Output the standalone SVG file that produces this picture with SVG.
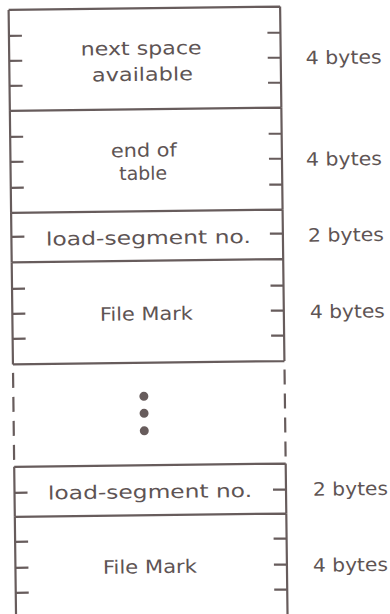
<svg xmlns="http://www.w3.org/2000/svg" width="390" height="614" viewBox="0 0 390 614">
<style>
 .ln{stroke:#675c5c;stroke-width:2.2;fill:none}
 .dash{stroke:#675c5c;stroke-width:2.2;fill:none;stroke-dasharray:15 9}
 .dot{fill:#675c5c}
 text{font-family:"DejaVu Sans","Liberation Sans",sans-serif;font-size:18.5px;fill:#5e5454}
</style>
<rect width="390" height="614" fill="#ffffff"/>
<g transform="rotate(-0.7)">
 <g id="next-space">
  <path class="ln" d="M8.5 10H280M8.5 10V111M280 10V111M8.5 36h13M8.5 61h13M8.5 86h13M280 36h-13M280 61h-13M280 86h-13"/>
  <text x="80" y="56.5" textLength="121" lengthAdjust="spacingAndGlyphs">next space</text>
  <text x="91" y="82.5" textLength="101" lengthAdjust="spacingAndGlyphs">available</text>
  <text x="305" y="68" textLength="76" lengthAdjust="spacingAndGlyphs">4 bytes</text>
 </g>
 <g id="end-of-table">
  <path class="ln" d="M8.5 111H280M8.5 111V213M280 111V213M8.5 137h13M8.5 162h13M8.5 188h13M280 137h-13M280 162h-13M280 188h-13"/>
  <text x="109" y="158.5" textLength="66" lengthAdjust="spacingAndGlyphs">end of</text>
  <text x="117" y="181.5" textLength="48" lengthAdjust="spacingAndGlyphs">table</text>
  <text x="304" y="169.5" textLength="76" lengthAdjust="spacingAndGlyphs">4 bytes</text>
 </g>
 <g id="load-segment-1">
  <path class="ln" d="M8.5 213H280M8.5 213V262.5M280 213V262.5M8.5 237h13M280 237h-13"/>
  <text x="43" y="246" textLength="205" lengthAdjust="spacingAndGlyphs">load-segment no.</text>
  <text x="305" y="245.5" textLength="76" lengthAdjust="spacingAndGlyphs">2 bytes</text>
 </g>
 <g id="file-mark-1">
  <path class="ln" d="M8.5 262.5H280M8.5 262.5V364.5M280 262.5V364.5M8.5 364.5H280M8.5 289h13M8.5 314h13M8.5 339h13M280 289h-13M280 314h-13M280 339h-13"/>
  <text x="96" y="322" textLength="93" lengthAdjust="spacingAndGlyphs">File Mark</text>
  <text x="306" y="322" textLength="75" lengthAdjust="spacingAndGlyphs">4 bytes</text>
 </g>
 <g id="continuation">
  <path class="dash" d="M8.5 373V460M280 373V460"/>
  <circle class="dot" cx="139" cy="398" r="4.5"/>
  <circle class="dot" cx="139" cy="415" r="4.5"/>
  <circle class="dot" cx="139" cy="432.5" r="4.5"/>
 </g>
 <g id="load-segment-2">
  <path class="ln" d="M8.5 467H280M8.5 467V517M280 467V517M8.5 493h13M280 493h-13"/>
  <text x="42" y="500" textLength="204" lengthAdjust="spacingAndGlyphs">load-segment no.</text>
  <text x="307" y="499.5" textLength="75" lengthAdjust="spacingAndGlyphs">2 bytes</text>
 </g>
 <g id="file-mark-2">
  <path class="ln" d="M8.5 517H280M8.5 517V625M280 517V625M8.5 542h13M8.5 568h13M8.5 593h13M280 542h-13M280 568h-13M280 593h-13"/>
  <text x="96" y="575" textLength="94" lengthAdjust="spacingAndGlyphs">File Mark</text>
  <text x="306" y="575.5" textLength="75" lengthAdjust="spacingAndGlyphs">4 bytes</text>
 </g>
</g>
</svg>
